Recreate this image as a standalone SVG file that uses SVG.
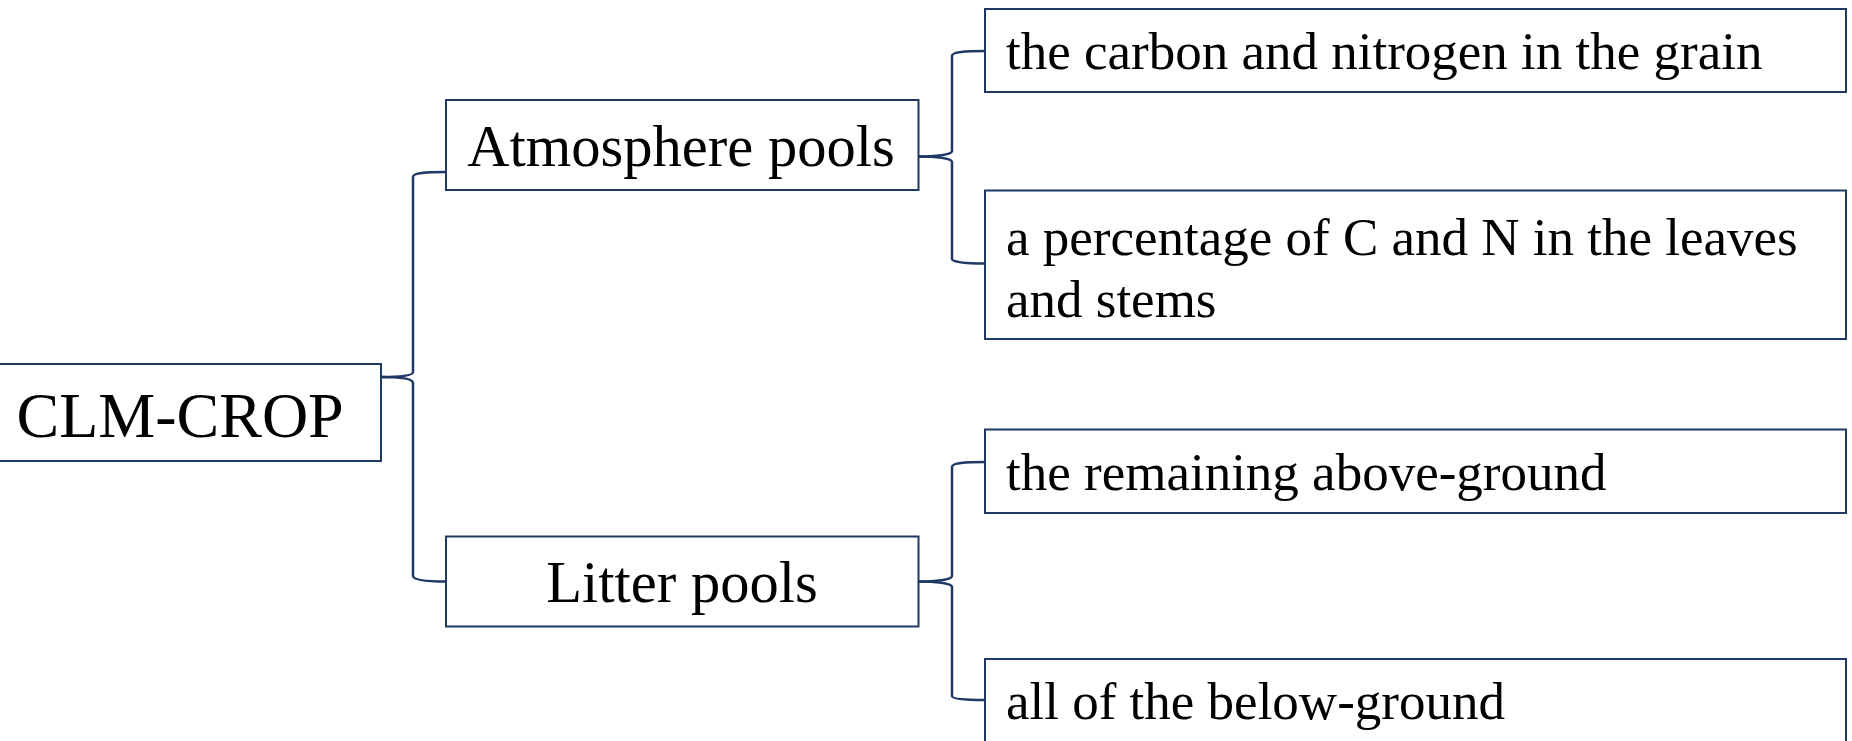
<svg xmlns="http://www.w3.org/2000/svg" width="1852" height="741" viewBox="0 0 1852 741">
<style>
.box{fill:#ffffff;stroke:#1f3864;stroke-width:2}
.con{fill:none;stroke:#1f3864;stroke-width:2.5}
.t{font-family:"Liberation Serif","Times New Roman",serif;fill:#000}
.big{font-size:64px}
.mid{font-size:58.5px;text-anchor:middle}
.sm{font-size:53px}
</style>
<rect width="1852" height="741" fill="#ffffff"/>
<g id="connectors">
<path class="con" d="M381,377 C397,377 413,376 413,372 L413,177 C413,173 425,172 446,172"/>
<path class="con" d="M381,377 C397,377 413,378 413,383 L413,576 C413,580 425,581.5 446,581.5"/>
<path class="con" d="M918,156.5 C935,156.5 952,155 952,151 L952,56 C952,52 965,51 985,51"/>
<path class="con" d="M918,156.5 C935,156.5 952,158 952,162 L952,259 C952,262 965,263.5 985,263.5"/>
<path class="con" d="M918,581.5 C935,581.5 952,580 952,576 L952,467 C952,463 965,462 985,462"/>
<path class="con" d="M918,581.5 C935,581.5 952,583 952,587 L952,696 C952,699 965,700 985,700"/>
</g>
<g id="clm-crop">
<rect class="box" x="-10" y="364" width="391" height="97"/>
<text class="t big" x="16.5" y="437">CLM-CROP</text>
</g>
<g id="atmosphere-pools">
<rect class="box" x="446" y="100" width="472.5" height="90"/>
<text class="t mid" x="681" y="165.5">Atmosphere pools</text>
</g>
<g id="litter-pools">
<rect class="box" x="446" y="536.5" width="472.5" height="90"/>
<text class="t mid" x="682" y="602">Litter pools</text>
</g>
<g id="grain">
<rect class="box" x="985" y="9" width="861" height="83"/>
<text class="t sm" x="1006" y="69">the carbon and nitrogen in the grain</text>
</g>
<g id="leaves-stems">
<rect class="box" x="985" y="190.5" width="861" height="148.5"/>
<text class="t sm" x="1006" y="255">a percentage of C and N in the leaves</text>
<text class="t sm" x="1006" y="317">and stems</text>
</g>
<g id="above-ground">
<rect class="box" x="985" y="429.5" width="861" height="83.5"/>
<text class="t sm" x="1006" y="489.5">the remaining above-ground</text>
</g>
<g id="below-ground">
<rect class="box" x="985" y="659" width="861" height="100"/>
<text class="t sm" x="1006" y="719">all of the below-ground</text>
</g>
</svg>
